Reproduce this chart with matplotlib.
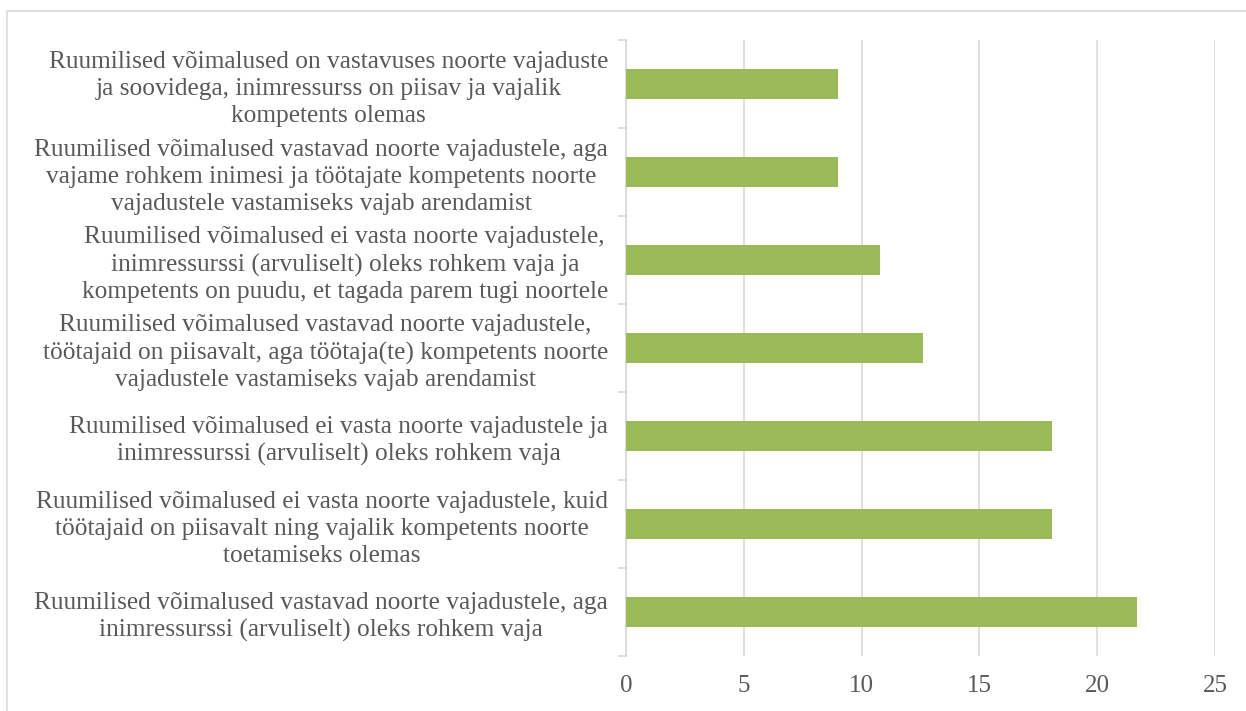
import matplotlib.pyplot as plt
from matplotlib.patches import Rectangle

labels = [
    'Ruumilised võimalused on vastavuses noorte vajaduste\nja soovidega, inimressurss on piisav ja vajalik\nkompetents olemas',
    'Ruumilised võimalused vastavad noorte vajadustele, aga\nvajame rohkem inimesi ja töötajate kompetents noorte\nvajadustele vastamiseks vajab arendamist',
    'Ruumilised võimalused ei vasta noorte vajadustele,\ninimressurssi (arvuliselt) oleks rohkem vaja ja\nkompetents on puudu, et tagada parem tugi noortele',
    'Ruumilised võimalused vastavad noorte vajadustele,\ntöötajaid on piisavalt, aga töötaja(te) kompetents noorte\nvajadustele vastamiseks vajab arendamist',
    'Ruumilised võimalused ei vasta noorte vajadustele ja\ninimressurssi (arvuliselt) oleks rohkem vaja',
    'Ruumilised võimalused ei vasta noorte vajadustele, kuid\ntöötajaid on piisavalt ning vajalik kompetents noorte\ntoetamiseks olemas',
    'Ruumilised võimalused vastavad noorte vajadustele, aga\ninimressurssi (arvuliselt) oleks rohkem vaja',
]
values = [9.0, 9.0, 10.8, 12.6, 18.1, 18.1, 21.7]
xticks = [0, 5, 10, 15, 20, 25]

bar_color = '#9BBB59'
grid_color = '#D9D9D9'
text_color = '#595959'
font_name = 'Liberation Serif'

fig = plt.figure(figsize=(12.46, 7.11), dpi=100)
ax = fig.add_axes([0.5024, 0.0774, 0.4727, 0.8663])

# light frame around the chart area
fig.patches.append(Rectangle((7 / 1246, -0.1), 1.2, 1 - 11 / 711 + 0.1,
                             transform=fig.transFigure, fill=False,
                             edgecolor=grid_color, linewidth=1.2))

pos = list(range(len(values)))
ax.barh(pos, values, height=0.35, color=bar_color, zorder=3)

ax.set_xlim(0, 25)
ax.set_ylim(len(values) - 0.5, -0.5)
ax.set_xticks(xticks)
ax.set_yticks(pos)
ax.set_yticklabels(labels, fontname=font_name, fontsize=18.3, color=text_color,
                   ha='right', multialignment='center', linespacing=1.28)
ax.set_yticks([p - 0.5 for p in pos] + [len(values) - 0.5], minor=True)

ax.grid(True, axis='x', color=grid_color, linewidth=1.2, zorder=0)
for s in ['top', 'right', 'bottom']:
    ax.spines[s].set_visible(False)
ax.spines['left'].set_color(grid_color)
ax.spines['left'].set_linewidth(1.2)

ax.tick_params(axis='y', which='major', length=0, pad=13)
ax.tick_params(axis='y', which='minor', length=6, color=grid_color, width=1.2)
ax.tick_params(axis='x', length=0, pad=14, labelsize=18, labelcolor=text_color)
for lab in ax.get_xticklabels():
    lab.set_fontname(font_name)

fig.savefig('out.png', dpi=100)
